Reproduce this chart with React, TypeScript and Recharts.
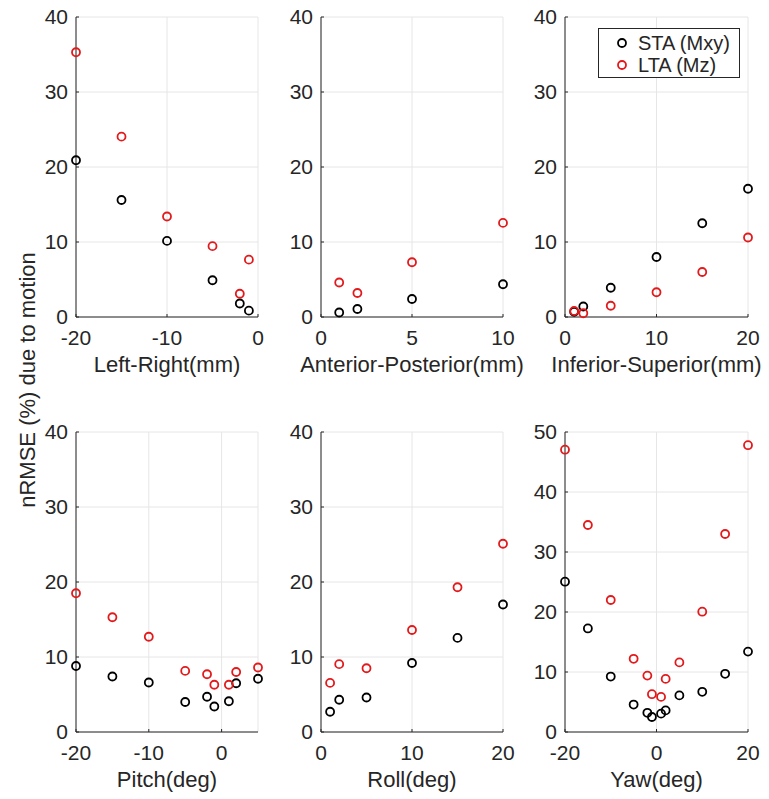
import React from 'react';
import {
  CartesianGrid,
  Legend,
  Scatter,
  ScatterChart,
  XAxis,
  YAxis,
} from 'recharts';

// values
const lrX = [-20, -15, -10, -5, -2, -1];
const lrSTA = [20.9, 15.6, 10.15, 4.9, 1.8, 0.85];
const lrLTA = [35.3, 24.05, 13.4, 9.45, 3.1, 7.65];

const apX = [1, 2, 5, 10];
const apSTA = [0.6, 1.07, 2.4, 4.37];
const apLTA = [4.6, 3.2, 7.3, 12.55];

const isX = [1, 2, 5, 10, 15, 20];
const isSTA = [0.7, 1.4, 3.9, 8.0, 12.5, 17.1];
const isLTA = [0.8, 0.5, 1.5, 3.3, 6.0, 10.6];

const pitchX = [-20, -15, -10, -5, -2, -1, 1, 2, 5];
const pitchSTA = [8.8, 7.4, 6.6, 4.0, 4.7, 3.4, 4.1, 6.5, 7.1];
const pitchLTA = [18.5, 15.3, 12.7, 8.15, 7.7, 6.3, 6.3, 8.0, 8.6];

const rollX = [1, 2, 5, 10, 15, 20];
const rollSTA = [2.7, 4.3, 4.6, 9.2, 12.55, 17.0];
const rollLTA = [6.55, 9.05, 8.5, 13.6, 19.3, 25.1];

const yawX = [-20, -15, -10, -5, -2, -1, 1, 2, 5, 10, 15, 20];
const yawSTA = [25.05, 17.26, 9.24, 4.57, 3.2, 2.5, 3.06, 3.6, 6.1, 6.7, 9.7, 13.4];
const yawLTA = [47.05, 34.5, 22.0, 12.2, 9.4, 6.3, 5.85, 8.85, 11.6, 20.05, 33.0, 47.8];

const yTicks40 = [0, 10, 20, 30, 40];
const yTicks50 = [0, 10, 20, 30, 40, 50];

const seriesNames = ['STA (Mxy)', 'LTA (Mz)'];

const INK = '#262626';
const RED = '#e31a1c';
const FONT = '"Liberation Sans", Arial, sans-serif';

const toPoints = (xs: number[], ys: number[]) => xs.map((x, i) => ({ x, y: ys[i] }));

interface PanelSpec {
  label: string;
  xs: number[];
  sta: number[];
  lta: number[];
  xDomain: [number, number];
  xTicks: number[];
  yDomain: [number, number];
  yTicks: number[];
  left: number;
  top: number;
  plotWidth: number;
  legend?: boolean;
}

const panels: PanelSpec[] = [
  { label: 'Left-Right(mm)', xs: lrX, sta: lrSTA, lta: lrLTA, xDomain: [-20, 0], xTicks: [-20, -10, 0], yDomain: [0, 40], yTicks: yTicks40, left: 76, top: 17, plotWidth: 182 },
  { label: 'Anterior-Posterior(mm)', xs: apX, sta: apSTA, lta: apLTA, xDomain: [0, 10], xTicks: [0, 5, 10], yDomain: [0, 40], yTicks: yTicks40, left: 321, top: 17, plotWidth: 182 },
  { label: 'Inferior-Superior(mm)', xs: isX, sta: isSTA, lta: isLTA, xDomain: [0, 20], xTicks: [0, 10, 20], yDomain: [0, 40], yTicks: yTicks40, left: 565, top: 17, plotWidth: 183, legend: true },
  { label: 'Pitch(deg)', xs: pitchX, sta: pitchSTA, lta: pitchLTA, xDomain: [-20, 5], xTicks: [-20, -10, 0], yDomain: [0, 40], yTicks: yTicks40, left: 76, top: 432, plotWidth: 182 },
  { label: 'Roll(deg)', xs: rollX, sta: rollSTA, lta: rollLTA, xDomain: [0, 20], xTicks: [0, 10, 20], yDomain: [0, 40], yTicks: yTicks40, left: 321, top: 432, plotWidth: 182 },
  { label: 'Yaw(deg)', xs: yawX, sta: yawSTA, lta: yawLTA, xDomain: [-20, 20], xTicks: [-20, 0, 20], yDomain: [0, 50], yTicks: yTicks50, left: 565, top: 432, plotWidth: 183 },
];

const PLOT_HEIGHT = 300;
const Y_AXIS_W = 50;
const X_AXIS_H = 60;
const MARGIN = { top: 16, right: 20, bottom: 0, left: 0 };
const X_TICK_GAP = 13;
const Y_TICK_GAP = 8;

const ring = (color: string) => (props: any) => (
  <circle cx={props.cx} cy={props.cy} r={4} fill="none" stroke={color} strokeWidth={1.8} />
);

const XTick = (props: any) => {
  const { x, y, payload } = props;
  const axisY = y - X_TICK_GAP;
  return (
    <g>
      <line x1={x} x2={x} y1={axisY} y2={axisY - 3} stroke={INK} />
      <text x={x} y={y} dy="0.71em" textAnchor="middle" fill={INK} fontSize={21} fontFamily={FONT}>
        {payload.value}
      </text>
    </g>
  );
};

const YTick = (props: any) => {
  const { x, y, payload } = props;
  const axisX = x + Y_TICK_GAP;
  return (
    <g>
      <line x1={axisX} x2={axisX + 3} y1={y} y2={y} stroke={INK} />
      <text x={x} y={y} dy="0.355em" textAnchor="end" fill={INK} fontSize={21} fontFamily={FONT}>
        {payload.value}
      </text>
    </g>
  );
};

const LegendBox = () => (
  <div
    style={{
      width: 140,
      height: 48,
      border: `1px solid ${INK}`,
      background: '#fff',
      fontFamily: FONT,
      fontSize: 20,
      color: INK,
      position: 'relative',
    }}
  >
    {seriesNames.map((name, i) => (
      <div key={name} style={{ position: 'absolute', left: 16, top: 3 + i * 22, height: 22, display: 'flex', alignItems: 'center' }}>
        <svg width={14} height={14} style={{ marginRight: 9 }}>
          <circle cx={7} cy={7} r={4} fill="none" stroke={i === 0 ? '#000' : RED} strokeWidth={1.8} />
        </svg>
        <span>{name}</span>
      </div>
    ))}
  </div>
);

function Panel({ spec }: { spec: PanelSpec }) {
  const width = Y_AXIS_W + spec.plotWidth + MARGIN.right;
  const height = MARGIN.top + PLOT_HEIGHT + X_AXIS_H;
  return (
    <div style={{ position: 'absolute', left: spec.left - Y_AXIS_W, top: spec.top - MARGIN.top }}>
      <ScatterChart width={width} height={height} margin={MARGIN}>
        <CartesianGrid stroke="#e6e6e6" />
        <XAxis
          type="number"
          dataKey="x"
          domain={spec.xDomain}
          ticks={spec.xTicks}
          height={X_AXIS_H}
          stroke={INK}
          tickLine={false}
          tickSize={0}
          tickMargin={X_TICK_GAP}
          tick={<XTick />}
          label={{
            content: (p: any) => (
              <text
                x={p.viewBox.x + p.viewBox.width / 2}
                y={p.viewBox.y + 47}
                dy="0.355em"
                textAnchor="middle"
                fill={INK}
                fontSize={22}
                fontFamily={FONT}
              >
                {spec.label}
              </text>
            ),
          }}
        />
        <YAxis
          type="number"
          dataKey="y"
          domain={spec.yDomain}
          ticks={spec.yTicks}
          width={Y_AXIS_W}
          stroke={INK}
          tickLine={false}
          tickSize={0}
          tickMargin={Y_TICK_GAP}
          tick={<YTick />}
        />
        {spec.legend && (
          <Legend
            layout="vertical"
            align="center"
            verticalAlign="middle"
            wrapperStyle={{ left: 83, top: 21 + MARGIN.top - 10, width: 142 }}
            content={() => <LegendBox />}
          />
        )}
        <Scatter
          name={seriesNames[0]}
          data={toPoints(spec.xs, spec.sta)}
          shape={ring('#000')}
          isAnimationActive={false}
        />
        <Scatter
          name={seriesNames[1]}
          data={toPoints(spec.xs, spec.lta)}
          shape={ring(RED)}
          isAnimationActive={false}
        />
      </ScatterChart>
    </div>
  );
}

export default function App() {
  return (
    <div style={{ position: 'absolute', left: 0, top: 0, width: 769, height: 799, background: '#fff' }}>
      {panels.map((spec) => (
        <Panel key={spec.label} spec={spec} />
      ))}
      <svg width={60} height={799} style={{ position: 'absolute', left: 0, top: 0 }}>
        <text
          x={27}
          y={380}
          transform="rotate(-90 27 380)"
          textAnchor="middle"
          dy="0.355em"
          fill={INK}
          fontSize={22}
          fontFamily={FONT}
        >
          nRMSE (%) due to motion
        </text>
      </svg>
    </div>
  );
}
